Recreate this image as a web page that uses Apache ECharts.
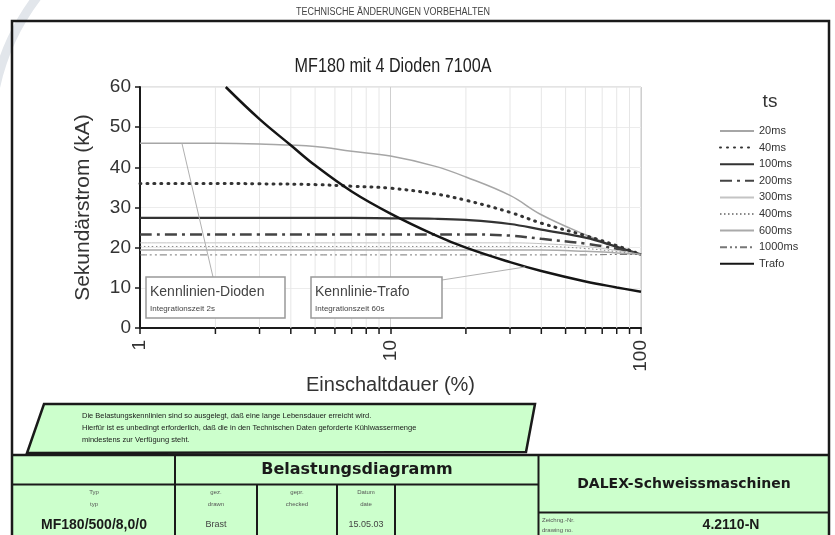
<!DOCTYPE html>
<html>
<head>
<meta charset="utf-8">
<script src="https://cdn.jsdelivr.net/npm/echarts@6/dist/echarts.min.js"></script>
<style>
  html, body { margin: 0; padding: 0; background: #fff; }
  #container { width: 835px; height: 535px; }
</style>
</head>
<body>
<div id="container"></div>
<script>
// Einschaltdauer (%) - Stützstellen der Dioden-Kennlinien
var edX = [1, 2, 3, 5, 7, 10, 15, 20, 30, 40, 60, 80, 100];
// Sekundärstrom (kA) je Stromflusszeit ts
var ts20   = [46, 46, 45.8, 45.2, 44, 42.8, 40.3, 37.6, 33, 28.2, 23.2, 20.2, 18.3];
var ts40   = [36, 36, 35.9, 35.7, 35.3, 34.8, 33.4, 31.8, 28.8, 26.1, 23, 20.5, 18.3];
var ts100  = [27.4, 27.4, 27.4, 27.4, 27.4, 27.3, 27.2, 26.9, 25.9, 24.5, 22.5, 20.2, 18.3];
var ts200  = [23.3, 23.3, 23.3, 23.3, 23.3, 23.3, 23.3, 23.3, 23, 22.2, 21, 19.7, 18.3];
var ts300  = [21.2, 21.2, 21.2, 21.2, 21.2, 21.2, 21.2, 21.2, 21.2, 21, 20.3, 19.3, 18.3];
var ts400  = [20.3, 20.3, 20.3, 20.3, 20.3, 20.3, 20.3, 20.3, 20.3, 20.3, 19.8, 19, 18.3];
var ts600  = [19.4, 19.4, 19.4, 19.4, 19.4, 19.4, 19.4, 19.4, 19.4, 19.4, 19.1, 18.7, 18.3];
var ts1000 = [18.2, 18.2, 18.2, 18.2, 18.2, 18.2, 18.2, 18.2, 18.2, 18.2, 18.2, 18.3, 18.3];
// Kennlinie Trafo (Integrationszeit 60s)
var trafoX = [2.2, 3, 4, 5, 7, 10, 15, 20, 30, 40, 60, 80, 100];
var trafoY = [60, 52, 45.5, 40.5, 34, 28.5, 23.2, 20, 16.4, 14.2, 11.6, 10.1, 9];

var names = ['20ms', '40ms', '100ms', '200ms', '300ms', '400ms', '600ms', '1000ms', 'Trafo'];
var minorX = [2, 3, 4, 5, 6, 7, 8, 9, 20, 30, 40, 50, 60, 70, 80, 90];

var green = '#ccffcc';
var ink = '#1a1a1a';
var sans = '"Liberation Sans", Arial, sans-serif';

function pairs(xs, ys) {
  return xs.map(function (x, i) { return [x, ys[i]]; });
}

function kurve(name, xs, ys, lineStyle) {
  return {
    type: 'line',
    name: name,
    data: pairs(xs, ys),
    smooth: 0.4,
    symbol: 'none',
    showSymbol: false,
    lineStyle: lineStyle,
    itemStyle: { color: lineStyle.color },
    z: 3
  };
}

var series = [
  kurve('20ms', edX, ts20, { color: '#a6a6a6', width: 1.5 }),
  kurve('40ms', edX, ts40, { color: '#333', width: 3, type: [1, 6], cap: 'round' }),
  kurve('100ms', edX, ts100, { color: '#333', width: 2.2 }),
  kurve('200ms', edX, ts200, { color: '#444', width: 2.5, type: [12, 5, 3, 5] }),
  kurve('300ms', edX, ts300, { color: '#c4c4c4', width: 1 }),
  kurve('400ms', edX, ts400, { color: '#888', width: 1, type: [1.5, 2.5] }),
  kurve('600ms', edX, ts600, { color: '#aaa', width: 1.5 }),
  kurve('1000ms', edX, ts1000, { color: '#777', width: 1, type: [7, 3, 2, 3, 2, 3] }),
  kurve('Trafo', trafoX, trafoY, { color: '#151515', width: 2.5 }),
  {
    // Nebenteilung der log. Achse (2..9, 20..90)
    type: 'custom',
    name: 'minor',
    silent: true,
    clip: false,
    z: 1,
    data: minorX.map(function (v) { return [v, 0]; }),
    encode: { x: 0, y: 1 },
    renderItem: function (params, api) {
      var b = api.coord([api.value(0), 0]);
      var t = api.coord([api.value(0), 60]);
      return {
        type: 'group',
        children: [
          { type: 'line', shape: { x1: b[0], y1: t[1], x2: b[0], y2: b[1] }, style: { stroke: '#e6e6e6', lineWidth: 1 } },
          { type: 'line', shape: { x1: b[0], y1: b[1], x2: b[0], y2: b[1] + 6 }, style: { stroke: ink, lineWidth: 1.5 } }
        ]
      };
    }
  }
];

var option = {
  backgroundColor: '#fff',
  animation: false,
  textStyle: { fontFamily: sans },
  grid: { left: 140, top: 87, width: 501, height: 241, show: true, borderColor: '#c8c8c8', borderWidth: 1 },
  legend: {
    data: names,
    orient: 'vertical',
    left: 719,
    top: 125.5,
    padding: 0,
    itemWidth: 34,
    itemHeight: 12,
    itemGap: 5.6,
    itemStyle: { opacity: 0, borderWidth: 0 },
    textStyle: { fontSize: 11, color: '#333', fontFamily: sans }
  },
  xAxis: {
    type: 'log',
    logBase: 10,
    min: 1,
    max: 100,
    name: 'Einschaltdauer (%)',
    nameLocation: 'middle',
    nameGap: 47,
    nameTextStyle: { fontSize: 20, color: '#333' },
    axisLine: { lineStyle: { color: ink, width: 2 } },
    axisTick: { show: true, length: 6, lineStyle: { color: ink, width: 1.5 } },
    axisLabel: { rotate: 90, fontSize: 19, color: '#333', margin: 12 },
    splitLine: { show: true, lineStyle: { color: '#cfcfcf', width: 1 } }
  },
  yAxis: {
    type: 'value',
    min: 0,
    max: 60,
    interval: 10,
    name: 'Sekundärstrom (kA)',
    nameLocation: 'middle',
    nameGap: 46,
    nameTextStyle: { fontSize: 21, color: '#333' },
    axisLine: { show: true, lineStyle: { color: ink, width: 2 } },
    axisTick: { show: true, length: 5, lineStyle: { color: ink, width: 1.5 } },
    axisLabel: { fontSize: 19, color: '#333', margin: 9 },
    splitLine: { show: true, lineStyle: { color: '#ececec', width: 1 } }
  },
  series: series
};

var dom = document.getElementById('container');
var myChart = echarts.init(dom, null, { renderer: 'canvas' });
myChart.setOption(option);

// Hinweislinien der Beschriftungsfelder an die Kurven anbinden
var pDioden = myChart.convertToPixel({ gridIndex: 0 }, [1.47, 46]);
var pTrafo = myChart.convertToPixel({ gridIndex: 0 }, [34.5, 15.2]);

function txt(x, y, text, size, opts) {
  opts = opts || {};
  return {
    type: 'text', x: x, y: y, z: 20,
    scaleX: opts.sx || 1,
    style: {
      text: text,
      fontSize: size,
      fontFamily: opts.font || sans,
      fontWeight: opts.bold ? 'bold' : 'normal',
      fill: opts.color || ink,
      align: opts.align || 'center',
      verticalAlign: 'middle'
    }
  };
}
function hline(x1, x2, y, w) {
  return { type: 'line', z: 15, shape: { x1: x1, y1: y, x2: x2, y2: y }, style: { stroke: ink, lineWidth: w || 2 } };
}
function vline(x, y1, y2, w) {
  return { type: 'line', z: 15, shape: { x1: x, y1: y1, x2: x, y2: y2 }, style: { stroke: ink, lineWidth: w || 2 } };
}

var graphics = [
  // Scanner-Schatten oben links
  { type: 'arc', z: 0, silent: true, shape: { cx: 217.5, cy: 135, r: 227, startAngle: 3.2, endAngle: 3.95 },
    style: { stroke: '#e2e6eb', lineWidth: 9, fill: null } },
  txt(393, 12, 'TECHNISCHE ÄNDERUNGEN VORBEHALTEN', 10, { color: '#444', sx: 0.9 }),
  // Blattrahmen
  { type: 'rect', z: 14, shape: { x: 12, y: 21, width: 817, height: 540 }, style: { fill: null, stroke: ink, lineWidth: 2.5 } },
  txt(393, 66, 'MF180 mit 4 Dioden 7100A', 21, { color: '#222', sx: 0.77 }),
  txt(770, 102, 'ts', 19, { color: '#333' }),

  // Beschriftungsfelder im Diagramm
  { type: 'line', z: 18, shape: { x1: 213, y1: 277, x2: pDioden[0], y2: pDioden[1] }, style: { stroke: '#b0b0b0', lineWidth: 1 } },
  { type: 'rect', z: 19, shape: { x: 146, y: 277, width: 139, height: 41 }, style: { fill: '#fff', stroke: '#999', lineWidth: 1.5 } },
  txt(150, 292, 'Kennlinien-Dioden', 14, { align: 'left', color: '#444' }),
  txt(150, 309, 'Integrationszeit 2s', 8, { align: 'left', color: '#444' }),
  { type: 'line', z: 18, shape: { x1: 442, y1: 280, x2: pTrafo[0], y2: pTrafo[1] }, style: { stroke: '#b0b0b0', lineWidth: 1 } },
  { type: 'rect', z: 19, shape: { x: 311, y: 277, width: 131, height: 41 }, style: { fill: '#fff', stroke: '#999', lineWidth: 1.5 } },
  txt(315, 292, 'Kennlinie-Trafo', 14, { align: 'left', color: '#444' }),
  txt(315, 309, 'Integrationszeit 60s', 8, { align: 'left', color: '#444' }),

  // Hinweis-Feld
  { type: 'polygon', z: 14, shape: { points: [[44, 404], [535, 404], [526, 452], [27, 453]] },
    style: { fill: green, stroke: ink, lineWidth: 2.5 } },
  txt(82, 416, 'Die Belastungskennlinien sind so ausgelegt, daß eine lange Lebensdauer erreicht wird.', 7.5, { align: 'left' }),
  txt(82, 428, 'Hierfür ist es unbedingt erforderlich, daß die in den Technischen Daten geforderte Kühlwassermenge', 7.5, { align: 'left' }),
  txt(82, 440, 'mindestens zur Verfügung steht.', 7.5, { align: 'left' }),

  // Schriftfeld
  { type: 'rect', z: 13, shape: { x: 13, y: 455, width: 816, height: 85 }, style: { fill: green } },
  hline(12, 829, 455, 2.5),
  hline(12, 538, 484.5),
  hline(538, 829, 512.5),
  vline(175, 455, 540),
  vline(538.5, 455, 540),
  vline(257, 484.5, 540),
  vline(337, 484.5, 540),
  vline(395, 484.5, 540),
  txt(357, 470, 'Belastungsdiagramm', 16, { bold: true, font: '"DejaVu Sans", sans-serif' }),
  txt(684, 484, 'DALEX-Schweissmaschinen', 14, { bold: true, font: '"DejaVu Sans", sans-serif' }),
  txt(94, 492, 'Typ', 6, { color: '#555' }),
  txt(94, 504, 'typ', 6, { color: '#555' }),
  txt(94, 525, 'MF180/500/8,0/0', 14, { bold: true }),
  txt(216, 492, 'gez.', 6, { color: '#555' }),
  txt(216, 504, 'drawn', 6, { color: '#555' }),
  txt(216, 525, 'Brast', 9, { color: '#444' }),
  txt(297, 492, 'gepr.', 6, { color: '#555' }),
  txt(297, 504, 'checked', 6, { color: '#555' }),
  txt(366, 492, 'Datum', 6, { color: '#555' }),
  txt(366, 504, 'date', 6, { color: '#555' }),
  txt(366, 525, '15.05.03', 9, { color: '#444' }),
  txt(542, 520, 'Zeichng.-Nr.', 6, { align: 'left', color: '#555' }),
  txt(542, 530, 'drawing no.', 6, { align: 'left', color: '#555' }),
  txt(731, 525, '4.2110-N', 14, { bold: true })
];

myChart.setOption({ graphic: graphics });
</script>
</body>
</html>
